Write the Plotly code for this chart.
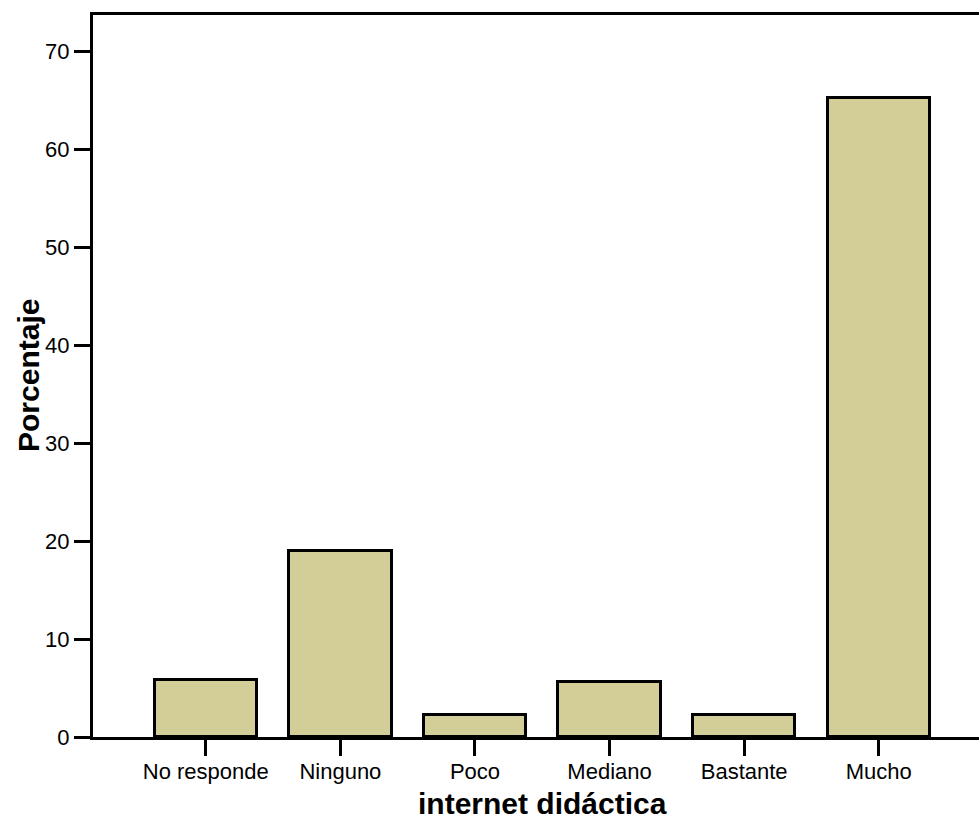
import plotly.graph_objects as go

categories = ["No responde", "Ninguno", "Poco", "Mediano", "Bastante", "Mucho"]
values = [5.8, 19.0, 2.2, 5.6, 2.2, 65.2]
y_ticks = [0, 10, 20, 30, 40, 50, 60, 70]
x_title = "internet didáctica"
y_title = "Porcentaje"

FONT = "Liberation Sans, Arial, sans-serif"
W, H = 979, 820
ML, MT, MR, MB = 93, 14.5, 0, 83

fig = go.Figure()
fig.add_trace(go.Bar(
    x=list(range(len(categories))), y=values,
    width=0.76,
    marker=dict(color="#D3CE98", line=dict(color="black", width=3)),
    showlegend=False,
))

fig.update_layout(
    width=W, height=H,
    margin=dict(l=ML, r=MR, t=MT, b=MB, autoexpand=False),
    paper_bgcolor="white", plot_bgcolor="white",
    font=dict(family=FONT, size=22, color="black"),
    bargap=0,
    xaxis=dict(
        range=[-0.838, 5.745],
        tickmode="array", tickvals=list(range(len(categories))), ticktext=categories,
        ticks="outside", ticklen=16, tickwidth=2.5, tickcolor="black",
        showline=True, linecolor="black", linewidth=3, mirror=True,
        showgrid=False, zeroline=False, automargin=False,
        tickfont=dict(size=22, family=FONT),
        ticklabelstandoff=-3,
    ),
    yaxis=dict(
        range=[0, 73.7],
        tickmode="array", tickvals=y_ticks,
        ticks="outside", ticklen=16, tickwidth=2.5, tickcolor="black",
        showline=True, linecolor="black", linewidth=3, mirror=False,
        showgrid=False, zeroline=False, automargin=False,
        tickfont=dict(size=22, family=FONT),
    ),
)

plot_h = H - MT - MB
plot_w = W - ML - MR
fig.add_annotation(
    text=f"<b>{x_title}</b>", xref="paper", yref="paper",
    x=(542.5 - ML) / plot_w, y=-(804 - (H - MB)) / plot_h,
    xanchor="center", yanchor="middle", showarrow=False,
    font=dict(size=30, family=FONT, color="black"),
)
fig.add_annotation(
    text=f"<b>{y_title}</b>", xref="paper", yref="paper",
    x=(28 - ML) / plot_w, y=0.5, textangle=-90,
    xanchor="center", yanchor="middle", showarrow=False,
    font=dict(size=30, family=FONT, color="black"),
)

fig.write_html(
    "out.html",
    config={"displayModeBar": False},
    post_script="document.body.style.margin='0';document.body.style.overflow='hidden';",
)
